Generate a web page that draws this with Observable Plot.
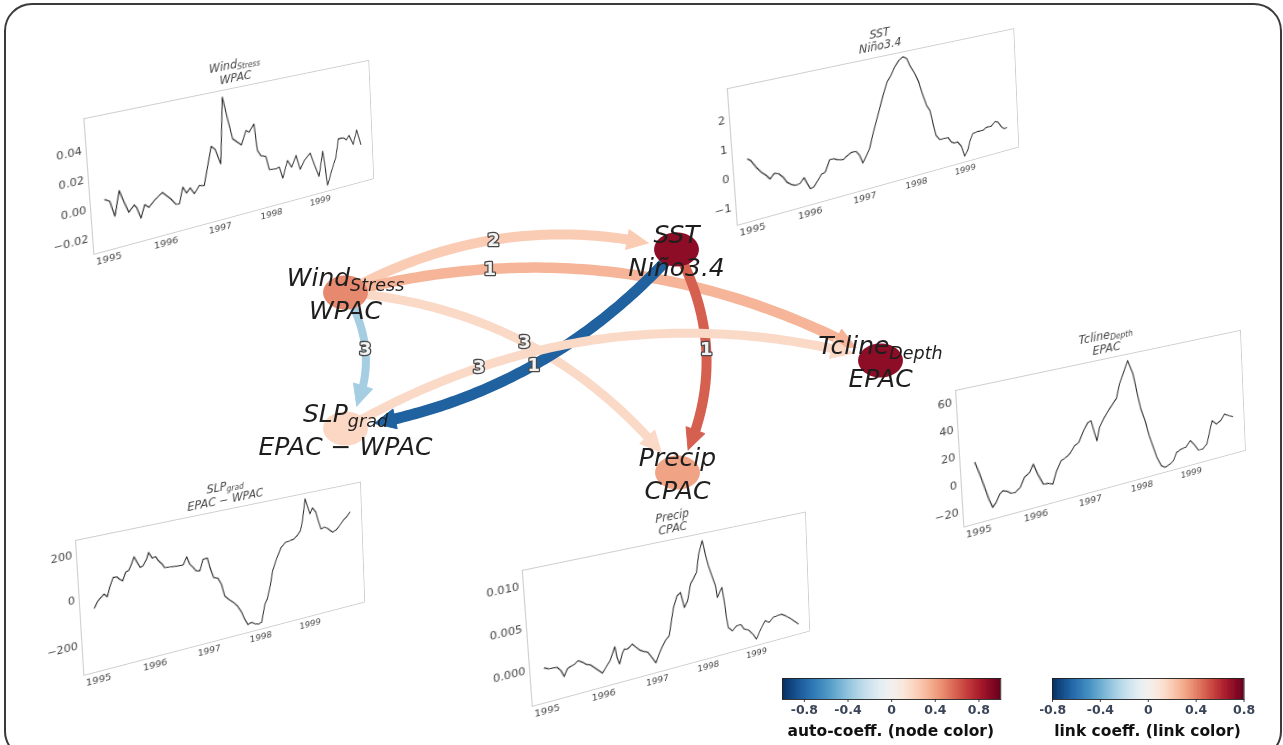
<!DOCTYPE html>
<html>
<head>
<meta charset="utf-8">
<script src="https://cdn.jsdelivr.net/npm/d3@7"></script>
<script src="https://cdn.jsdelivr.net/npm/@observablehq/plot@0.6"></script>
<style>
html, body { margin: 0; padding: 0; background: #fff; }
#root { position: relative; width: 1283px; height: 745px; overflow: hidden; font-family: "DejaVu Sans", sans-serif; }
#border { position: absolute; left: 4px; top: 3px; width: 1278px; height: 756px; border: 2px solid #3a3a3a; border-radius: 28px; box-sizing: border-box; }
.inset { position: absolute; left: 0; top: 0; transform-origin: 0 0; }
.inset svg { position: absolute; left: 0; top: 0; }
.inset-title { position: absolute; text-align: center; font-style: italic; font-size: 11.5px; line-height: 13px; color: #444; white-space: nowrap; }
.inset-title sub { font-size: 8px; vertical-align: baseline; position: relative; top: 2px; }
.inset svg [aria-label^="x-axis"] text { font-size: 9.5px !important; }
.cb { position: absolute; }
.cb svg { display: block; }
.cb-caption { position: absolute; font-weight: bold; font-size: 15.5px; color: #111; text-align: center; white-space: nowrap; transform: translateX(-50%); }
#main { position: absolute; left: 0; top: 0; }
</style>
</head>
<body>
<div id="root"><div id="border"></div></div>
<script>
// ---------------- graph data ----------------
const nodeName   = ["Wind", "SST", "Tcline", "SLP", "Precip"];
const nodeSub    = ["Stress", "", "Depth", "grad", ""];
const nodeRegion = ["WPAC", "Niño3.4", "EPAC", "EPAC − WPAC", "CPAC"];
const nodeAutoCoeff = [0.48, 0.9, 0.9, 0.2, 0.4];

const linkSource = [0, 0, 0, 0, 1, 1, 3];
const linkTarget = [1, 2, 3, 4, 3, 4, 2];
const linkLag    = [2, 1, 3, 3, 1, 1, 3];
const linkCoeff  = [0.2, 0.27, -0.27, 0.15, -0.65, 0.48, 0.15];

// ---------------- time series data ----------------
const windYears = [1995.00,1995.08,1995.15,1995.25,1995.32,1995.39,1995.49,1995.53,1995.59,1995.67,1995.74,1995.85,1995.99,1996.13,1996.22,1996.28,1996.36,1996.42,1996.49,1996.56,1996.66,1996.75,1996.92,1996.99,1997.08,1997.18,1997.26,1997.33,1997.49,1997.59,1997.65,1997.75,1997.79,1997.85,1997.95,1998.00,1998.13,1998.20,1998.26,1998.37,1998.45,1998.55,1998.62,1998.71,1998.84,1998.92,1999.00,1999.10,1999.17,1999.27,1999.37,1999.44,1999.55,1999.61,1999.67,1999.75,1999.84,1999.92];
const windValues = [0.0040,0.0020,-0.0090,0.0077,-0.0010,-0.0087,-0.0046,-0.0071,-0.0149,-0.0062,-0.0088,-0.0047,-0.0008,-0.0068,-0.0116,-0.0118,-0.0007,-0.0056,-0.0025,-0.0074,-0.0025,-0.0034,0.0233,0.0203,0.0091,0.0564,0.0389,0.0250,0.0192,0.0288,0.0271,0.0323,0.0124,0.0081,0.0065,-0.0036,-0.0043,-0.0037,-0.0125,-0.0003,-0.0060,0.0019,-0.0093,-0.0034,0.0010,-0.0091,-0.0182,0.0002,-0.0266,-0.0161,-0.0069,0.0066,0.0063,0.0043,0.0071,-0.0005,0.0100,-0.0020];

const sstYears = [1995.00,1995.05,1995.13,1995.21,1995.29,1995.35,1995.43,1995.50,1995.57,1995.63,1995.70,1995.77,1995.85,1995.93,1995.98,1996.03,1996.09,1996.17,1996.24,1996.31,1996.40,1996.47,1996.55,1996.64,1996.73,1996.81,1996.89,1996.95,1997.00,1997.06,1997.14,1997.22,1997.34,1997.45,1997.54,1997.62,1997.70,1997.79,1997.87,1997.94,1997.99,1998.08,1998.15,1998.21,1998.28,1998.34,1998.39,1998.44,1998.51,1998.59,1998.68,1998.74,1998.80,1998.87,1998.94,1999.00,1999.07,1999.13,1999.19,1999.30,1999.40,1999.50,1999.58,1999.68,1999.74,1999.81,1999.87,1999.92];
const sstValues = [0.531,0.447,0.177,-0.038,-0.195,-0.349,-0.189,-0.247,-0.401,-0.614,-0.732,-0.806,-0.786,-0.616,-0.856,-1.060,-1.033,-0.839,-0.659,-0.614,-0.217,-0.217,-0.293,-0.340,-0.224,-0.148,-0.164,-0.339,-0.647,-0.455,-0.191,0.322,1.003,1.629,2.082,2.295,2.569,2.783,2.871,2.784,2.512,2.161,1.819,1.353,0.883,0.666,0.136,-0.334,-0.529,-0.531,-0.535,-0.733,-0.804,-0.799,-0.998,-1.414,-1.219,-0.861,-0.634,-0.594,-0.606,-0.521,-0.537,-0.387,-0.443,-0.672,-0.764,-0.749];

const tclineYears = [1995.00,1995.07,1995.14,1995.20,1995.26,1995.32,1995.39,1995.45,1995.52,1995.59,1995.66,1995.75,1995.83,1995.93,1996.00,1996.07,1996.16,1996.25,1996.33,1996.41,1996.50,1996.59,1996.67,1996.76,1996.84,1996.94,1997.03,1997.09,1997.14,1997.18,1997.24,1997.34,1997.43,1997.51,1997.59,1997.66,1997.75,1997.84,1997.93,1997.99,1998.05,1998.13,1998.19,1998.25,1998.32,1998.40,1998.47,1998.56,1998.65,1998.72,1998.82,1998.91,1999.01,1999.09,1999.17,1999.26,1999.35,1999.48,1999.57,1999.66,1999.75,1999.84,1999.92];
const tclineValues = [13.19,3.87,-6.71,-15.98,-22.82,-19.83,-14.38,-12.6,-13.84,-16.15,-16.24,-13.46,-6.92,-4.16,1.26,-6.98,-15.53,-16.01,-17.35,-8.16,-1.48,0.08,2.33,7.31,9.02,17.01,22.53,23.2,13.7,6.83,16.58,23.31,28.17,32.05,35.94,46.29,54.63,62.95,51.75,36.77,23.0,11.77,0.57,-7.95,-18.0,-25.4,-27.54,-26.38,-24.04,-18.15,-16.4,-15.97,-11.62,-15.74,-20.85,-20.98,-17.82,-0.02,-3.62,-1.72,2.78,0.63,-0.94];

const slpYears = [1995.00,1995.06,1995.12,1995.18,1995.23,1995.28,1995.35,1995.41,1995.46,1995.51,1995.57,1995.63,1995.68,1995.73,1995.78,1995.83,1995.88,1995.95,1995.99,1996.05,1996.11,1996.16,1996.22,1996.26,1996.34,1996.43,1996.52,1996.60,1996.67,1996.72,1996.78,1996.83,1996.90,1996.97,1997.05,1997.09,1997.15,1997.23,1997.29,1997.34,1997.41,1997.50,1997.57,1997.65,1997.70,1997.76,1997.83,1997.90,1997.97,1998.03,1998.11,1998.16,1998.23,1998.29,1998.39,1998.48,1998.57,1998.66,1998.74,1998.81,1998.88,1998.93,1999.00,1999.04,1999.09,1999.14,1999.21,1999.25,1999.30,1999.37,1999.43,1999.49,1999.54,1999.62,1999.69,1999.77,1999.84,1999.92];
const slpValues = [-50.5,-24.8,-10.4,0.9,-14.2,24.1,64.7,64.4,50.8,40.8,74.7,81.3,105.7,135.6,107.5,82.1,86.8,113.3,140.8,112.2,115,93.9,75.5,57.9,55,53.3,51.2,51.4,84.2,47.6,29,10.4,6.8,56.6,57.1,11.7,-38.4,-46.1,-77.3,-134.7,-154.7,-175,-194.9,-231,-265.8,-296.1,-289.2,-301,-305.8,-301.2,-219.2,-198.4,-139,-71.4,-13,29.9,48.9,52.3,55.9,68.3,88.5,134.5,234.9,200.9,158.4,184.7,160.6,118.2,75.4,79.7,72.1,57.5,46.7,54.4,71.6,92.3,105,125.7];

const precipYears = [1995.00,1995.07,1995.14,1995.22,1995.28,1995.33,1995.39,1995.45,1995.51,1995.59,1995.66,1995.73,1995.80,1995.87,1995.94,1996.00,1996.07,1996.15,1996.20,1996.25,1996.28,1996.32,1996.38,1996.42,1996.48,1996.57,1996.64,1996.70,1996.77,1996.85,1996.92,1996.99,1997.06,1997.12,1997.19,1997.27,1997.38,1997.46,1997.53,1997.59,1997.66,1997.73,1997.79,1997.86,1997.92,1998.00,1998.05,1998.10,1998.16,1998.22,1998.25,1998.31,1998.35,1998.38,1998.41,1998.44,1998.52,1998.61,1998.70,1998.76,1998.85,1998.95,1999.01,1999.11,1999.21,1999.29,1999.38,1999.47,1999.56,1999.64,1999.71,1999.80,1999.92];
const precipValues = [-0.00023,-0.00047,-0.00049,-0.00056,-0.00106,-0.00189,-0.00107,-0.00085,-0.00075,-0.00039,-0.00073,-0.00113,-0.00131,-0.00180,-0.00227,-0.00271,-0.00209,-0.00139,-0.00065,0.00018,-0.00122,-0.00212,-0.00088,-0.00042,-0.00052,-0.00005,-0.00058,-0.00103,-0.00133,-0.00158,-0.00235,-0.00319,-0.00217,-0.00142,-0.00069,-0.00019,0.00326,0.00464,0.00497,0.00294,0.00369,0.00573,0.00630,0.00706,0.00934,0.01095,0.00915,0.00755,0.00616,0.00477,0.00319,0.00397,0.00435,0.00255,0.00053,-0.00107,-0.00164,-0.00113,-0.00113,-0.00182,-0.00210,-0.00289,-0.00357,-0.00239,-0.00144,-0.00180,-0.00128,-0.00119,-0.00112,-0.00146,-0.00180,-0.00231,-0.00306];

const yearTicks = [1995, 1996, 1997, 1998, 1999];
const nodeColorTicks = [-0.8, -0.4, 0, 0.4, 0.8];
const linkColorTicks = [-0.8, -0.4, 0, 0.4, 0.8];

// ---------------- layout (positions / styles) ----------------
const W = 1283, H = 745;
const nodeX = [345, 676, 880, 345, 677];
const nodeY = [292, 249, 360, 428, 472];
const linkRad = [0.2, 0.2, 0.3, 0.22, 0.18, 0.265, 0.21];
const linkLabelT = [0.46, 0.26, 0.42, 0.48, 0.48, 0.45, 0.26];
const linkWidth = [10, 10.5, 8, 9, 11, 10, 9];
const ELL_RX = 22.4, ELL_RY = 17, HEAD_LEN = 21, HEAD_W = 20;

const insetLayout = [
  {node: 0, series: [windYears, windValues], yDomain: [-0.0311, 0.0611], yTicks: [-0.02, 0, 0.02, 0.04], dec: 2,
   quad: [[83.3, 118.3], [368.3, 60], [373.3, 178.3], [93.3, 254]]},
  {node: 1, series: [sstYears, sstValues], yDomain: [-1.641, 3.054], yTicks: [-1, 0, 1, 2], dec: 0,
   quad: [[726.7, 88.3], [1013.3, 28.3], [1018.3, 146.7], [736.7, 225]]},
  {node: 2, series: [tclineYears, tclineValues], yDomain: [-31.44, 67.96], yTicks: [-20, 0, 20, 40, 60], dec: 0,
   quad: [[955, 390], [1240, 330], [1245, 450], [963.3, 526.7]]},
  {node: 3, series: [slpYears, slpValues], yDomain: [-333.1, 260.4], yTicks: [-200, 0, 200], dec: 0,
   quad: [[75, 540], [360, 481.7], [364.3, 601.7], [83.3, 675]]},
  {node: 4, series: [precipYears, precipValues], yDomain: [-0.004453, 0.011866], yTicks: [0, 0.005, 0.01], dec: 3,
   quad: [[521.7, 570], [805, 511.7], [809.3, 630.7], [531.7, 706]]}
];

const root = document.getElementById("root");

// ---------------- helpers ----------------
function solve(A, b) {
  const n = b.length;
  const M = A.map((row, i) => [...row, b[i]]);
  for (let c = 0; c < n; c++) {
    let p = c;
    for (let r = c + 1; r < n; r++) if (Math.abs(M[r][c]) > Math.abs(M[p][c])) p = r;
    [M[c], M[p]] = [M[p], M[c]];
    for (let r = 0; r < n; r++) {
      if (r === c) continue;
      const f = M[r][c] / M[c][c];
      for (let k = c; k <= n; k++) M[r][k] -= f * M[c][k];
    }
  }
  return M.map((row, i) => row[n] / row[i]);
}
function homography(src, dst) {
  const A = [], b = [];
  for (let i = 0; i < 4; i++) {
    const [x, y] = src[i], [X, Y] = dst[i];
    A.push([x, y, 1, 0, 0, 0, -X * x, -X * y]); b.push(X);
    A.push([0, 0, 0, x, y, 1, -Y * x, -Y * y]); b.push(Y);
  }
  const [a, bb, c, d, e, f, g, h] = solve(A, b);
  return `matrix3d(${a},${d},0,${g},${bb},${e},0,${h},0,0,1,0,${c},${f},0,1)`;
}
const fmtSigned = n => d => (d < 0 ? "\u2212" : "") + Math.abs(d).toFixed(n);

// ---------------- insets ----------------
const FW = 300, FH = 136, ML = 44, MT = 34, MR = 8, MB = 24;
insetLayout.forEach(cfg => {
  const [ys, vs] = cfg.series;
  const pts = ys.map((t, i) => ({t, v: vs[i]}));
  const [t0, t1] = d3.extent(ys);
  const pad = 0.05 * (t1 - t0);
  const svg = Plot.plot({
    width: ML + FW + MR, height: MT + FH + MB,
    marginLeft: ML, marginRight: MR, marginTop: MT, marginBottom: MB,
    style: {background: "transparent", fontFamily: '"DejaVu Sans", sans-serif', fontSize: "10.3px", color: "#444", overflow: "visible"},
    x: {domain: [t0 - pad, t1 + pad], ticks: yearTicks, tickFormat: d => String(d), tickSize: 0, tickPadding: 5, label: null},
    y: {domain: cfg.yDomain, ticks: cfg.yTicks, tickFormat: fmtSigned(cfg.dec), tickSize: 0, tickPadding: 4, label: null},
    marks: [
      Plot.frame({stroke: "#c2c2c2", strokeWidth: 0.8}),
      Plot.line(pts, {x: "t", y: "v", stroke: "#222", strokeWidth: 1.05})
    ]
  });
  const wrap = document.createElement("div");
  wrap.className = "inset";
  wrap.style.width = (ML + FW + MR) + "px";
  wrap.style.height = (MT + FH + MB) + "px";
  wrap.appendChild(svg);
  const title = document.createElement("div");
  title.className = "inset-title";
  title.style.left = ML + "px";
  title.style.width = FW + "px";
  title.style.top = (MT - 30) + "px";
  const i = cfg.node;
  title.innerHTML = nodeName[i] + (nodeSub[i] ? "<sub>" + nodeSub[i] + "</sub>" : "") + "<br>" + nodeRegion[i];
  wrap.appendChild(title);
  wrap.style.transform = homography([[ML, MT], [ML + FW, MT], [ML + FW, MT + FH], [ML, MT + FH]], cfg.quad);
  root.appendChild(wrap);
});

// ---------------- main graph ----------------
let linkScale;
try { linkScale = Plot.scale({color: {type: "linear", domain: [-0.8, 0.8], scheme: "rdbu", reverse: true}}); }
catch (e) { linkScale = null; }
const linkColorOf = v => linkScale ? linkScale.apply(v) : d3.interpolateRdBu(1 - (v + 0.8) / 1.6);

function bez(p0, c, p2, t) {
  const u = 1 - t;
  return [u * u * p0[0] + 2 * u * t * c[0] + t * t * p2[0], u * u * p0[1] + 2 * u * t * c[1] + t * t * p2[1]];
}
const dist = (p, q) => Math.hypot(p[0] - q[0], p[1] - q[1]);

const linkMarks = [];
const linkLabels = [];
linkSource.forEach((s, k) => {
  const p0 = [nodeX[s], nodeY[s]];
  const p2 = [nodeX[linkTarget[k]], nodeY[linkTarget[k]]];
  const dx = p2[0] - p0[0], dy = p2[1] - p0[1];
  const r = linkRad[k];
  const c = [(p0[0] + p2[0]) / 2 + r * dy, (p0[1] + p2[1]) / 2 - r * dx];
  const B = t => bez(p0, c, p2, t);
  const ax = p2[0] - c[0], ay = p2[1] - c[1], al = Math.hypot(ax, ay);
  const shrink = 1 / Math.hypot(ax / al / ELL_RX, ay / al / ELL_RY) + 7;
  let tTip = 1; while (tTip > 0 && dist(B(tTip), p2) < shrink) tTip -= 0.0005;
  const tip = B(tTip);
  let tBase = tTip; while (tBase > 0 && dist(B(tBase), tip) < HEAD_LEN) tBase -= 0.0005;
  let tEnd = tTip; while (tEnd > 0 && dist(B(tEnd), tip) < HEAD_LEN * 0.55) tEnd -= 0.0005;
  const shaft = d3.range(81).map(i => { const p = B(tEnd * i / 80); return {x: p[0], y: p[1]}; });
  const base = B(tBase);
  const ux = (tip[0] - base[0]) / HEAD_LEN, uy = (tip[1] - base[1]) / HEAD_LEN;
  const head = [
    {x: tip[0], y: tip[1]},
    {x: base[0] - uy * HEAD_W / 2, y: base[1] + ux * HEAD_W / 2},
    {x: base[0] + uy * HEAD_W / 2, y: base[1] - ux * HEAD_W / 2},
    {x: tip[0], y: tip[1]}
  ];
  const col = linkColorOf(linkCoeff[k]);
  linkMarks.push(
    Plot.line(shaft, {x: "x", y: "y", stroke: col, strokeWidth: linkWidth[k], strokeLinecap: "butt"}),
    Plot.line(head, {x: "x", y: "y", fill: col, stroke: col, strokeWidth: 1, strokeLinejoin: "miter"})
  );
  const lp = B(linkLabelT[k]);
  linkLabels.push({x: lp[0], y: lp[1], text: String(linkLag[k])});
});

const nodes = nodeName.map((n, i) => ({x: nodeX[i], y: nodeY[i], coeff: nodeAutoCoeff[i]}));

const ellipseSymbol = {
  draw(ctx, size) {
    const r = Math.sqrt(size / Math.PI);
    const rx = r * ELL_RX / ELL_RY, ry = r, k = 0.5523;
    ctx.moveTo(rx, 0);
    ctx.bezierCurveTo(rx, k * ry, k * rx, ry, 0, ry);
    ctx.bezierCurveTo(-k * rx, ry, -rx, k * ry, -rx, 0);
    ctx.bezierCurveTo(-rx, -k * ry, -k * rx, -ry, 0, -ry);
    ctx.bezierCurveTo(k * rx, -ry, rx, -k * ry, rx, 0);
    ctx.closePath();
  }
};

const mainFont = 'italic 25px "DejaVu Sans"', subFont = 'italic 17.5px "DejaVu Sans"';
const mctx = document.createElement("canvas").getContext("2d");
const textW = (s, f) => { mctx.font = f; return mctx.measureText(s).width; };
const lblMain = [], lblSub = [], lbl2 = [];
nodeName.forEach((n, i) => {
  const wm = textW(n, mainFont), ws = nodeSub[i] ? textW(nodeSub[i], subFont) : 0;
  const x0 = nodeX[i] - (wm + ws) / 2;
  lblMain.push({x: x0, y: nodeY[i] - 7, text: n});
  if (nodeSub[i]) lblSub.push({x: x0 + wm, y: nodeY[i] - 2, text: nodeSub[i]});
  lbl2.push({x: nodeX[i], y: nodeY[i] + 26, text: nodeRegion[i]});
});

const mainSvg = Plot.plot({
  width: W, height: H, margin: 0,
  x: {domain: [0, W], range: [0, W], axis: null},
  y: {domain: [0, H], range: [0, H], axis: null},
  color: {type: "linear", domain: [-1, 1], scheme: "rdbu", reverse: true},
  style: {background: "transparent", fontFamily: '"DejaVu Sans", sans-serif', overflow: "visible"},
  marks: [
    ...linkMarks,
    Plot.dot(nodes, {x: "x", y: "y", r: ELL_RY, fill: "coeff", symbol: ellipseSymbol, stroke: "none"}),
    Plot.text(linkLabels, {x: "x", y: "y", text: "text", fontSize: 18, fontWeight: "bold", fill: "#f2f2f2", stroke: "#4a4a4a", strokeWidth: 2.6, textAnchor: "middle", lineAnchor: "middle"}),
    Plot.text(lblMain, {x: "x", y: "y", text: "text", fontSize: 25, fontStyle: "italic", fill: "#1e1e1e", textAnchor: "start", lineAnchor: "bottom"}),
    Plot.text(lblSub, {x: "x", y: "y", text: "text", fontSize: 17.5, fontStyle: "italic", fill: "#1e1e1e", textAnchor: "start", lineAnchor: "bottom"}),
    Plot.text(lbl2, {x: "x", y: "y", text: "text", fontSize: 25, fontStyle: "italic", fill: "#1e1e1e", textAnchor: "middle", lineAnchor: "bottom"})
  ]
});
mainSvg.id = "main";
root.appendChild(mainSvg);

// ---------------- colorbars ----------------
function colorbar(domain, ticks, left, top, width, caption) {
  const n = 220, step = (domain[1] - domain[0]) / n;
  const cells = d3.range(n).map(i => ({x1: domain[0] + i * step, x2: Math.min(domain[1], domain[0] + (i + 1.8) * step), v: domain[0] + (i + 0.5) * step}));
  const rampH = 21;
  const svg = Plot.plot({
    width: width + 24, height: rampH + 1 + 20,
    marginLeft: 12, marginRight: 12, marginTop: 1, marginBottom: 20,
    x: {domain, ticks, tickFormat: d => d === 0 ? "0" : d.toFixed(1), tickSize: 3, tickPadding: 3, label: null},
    y: {domain: [0, 1], axis: null},
    color: {type: "linear", domain, scheme: "rdbu", reverse: true},
    style: {background: "transparent", fontFamily: '"DejaVu Sans", sans-serif', fontSize: "12.5px", fontWeight: "bold", color: "#3a4558"},
    marks: [
      Plot.rect(cells, {x1: "x1", x2: "x2", y1: 0, y2: 1, fill: "v"}),
      Plot.frame({stroke: "#222", strokeWidth: 0.9})
    ]
  });
  const div = document.createElement("div");
  div.className = "cb";
  div.style.left = (left - 12) + "px";
  div.style.top = (top - 1) + "px";
  div.appendChild(svg);
  root.appendChild(div);
  const cap = document.createElement("div");
  cap.className = "cb-caption";
  cap.style.left = (left + width / 2) + "px";
  cap.style.top = "722px";
  cap.textContent = caption;
  root.appendChild(cap);
}
colorbar([-1, 1], nodeColorTicks, 781.7, 678, 218.3, "auto-coeff. (node color)");
colorbar([-0.8, 0.8], linkColorTicks, 1051.7, 677.5, 191.6, "link coeff. (link color)");
</script>
</body>
</html>
